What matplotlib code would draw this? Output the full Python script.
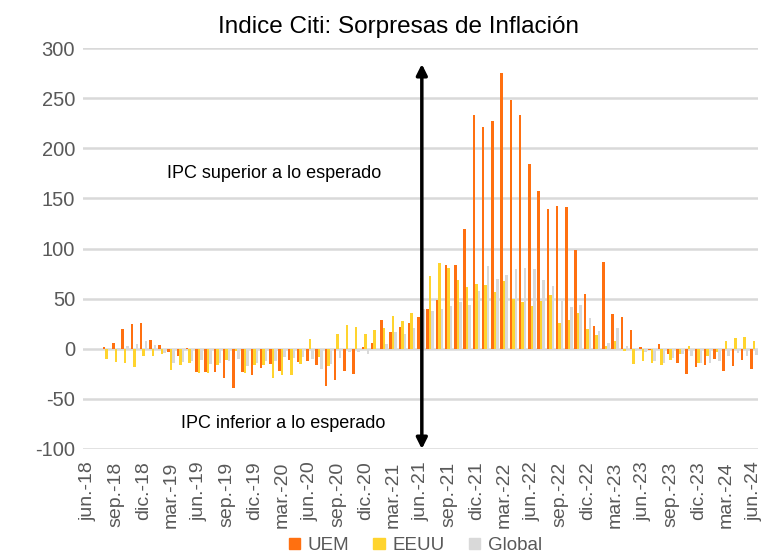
import numpy as np
import matplotlib
matplotlib.use("Agg")
import matplotlib.pyplot as plt
from matplotlib import font_manager as fm
from matplotlib.patches import Patch

names = {f.name for f in fm.fontManager.ttflist}
FONT = 'Liberation Sans Narrow' if 'Liberation Sans Narrow' in names else 'Liberation Sans'
plt.rcParams['font.family'] = [FONT, 'DejaVu Sans']

mes = ['ene.', 'feb.', 'mar.', 'abr.', 'may.', 'jun.', 'jul.', 'ago.', 'sep.', 'oct.', 'nov.', 'dic.']
months = []
for k in range(73):
    m = (5 + k) % 12
    y = 18 + (5 + k) // 12
    months.append(f"{mes[m]}-{y}")

nan = np.nan
uem = [nan, nan, 2, 6, 20, 25, 26, 9, 4, -3, -7, 1, -23, -23, -23, -29, -39, -23, -26, -19,
       -15, -22, -11, -13, -12, -16, -37, -31, -22, -25, 2, 6, 29, 17, 22, 26, 32, 40, 49, 84,
       84, 119, 233, 221, 227, 275, 248, 233, 184, 157, 139, 142, 141, 99, 55, 23, 87, 35, 32, 19,
       2, -1, 5, -5, -14, -25, -18, -16, -10, -22, -17, -11, -20]
eeuu = [nan, nan, -10, -13, -14, -18, -7, -7, -5, -21, -16, -14, -24, -24, -16, -11, -2, -24, -16, -16,
        -29, -26, -26, -15, 10, -8, -17, 15, 24, 22, 15, 19, 21, 33, 28, 36, 71, 73, 86, 81,
        69, 62, 65, 64, 57, 68, 50, 47, 43, 48, 54, 26, 29, 36, 20, 14, 3, 8, -2, -15,
        -12, -14, -16, -11, -5, 3, -14, -7, -3, 8, 11, 12, 8]
glob = [nan, nan, 0, 1, 3, 5, 8, 4, -4, -14, -13, -12, -11, -15, -14, -12, -10, -17, -14, -12,
        -12, -8, -9, -8, -10, -20, -15, -9, -3, -3, -5, -1, 5, 17, 15, 21, 40, 38, 40, 43,
        47, 44, 58, 83, 70, 74, 80, 81, 80, 69, 63, 48, 42, 44, 31, 18, 6, 21, 3, -2,
        -3, -12, -14, -9, -5, -7, -14, -14, -12, -7, -4, -7, -6]
series_names = ['UEM', 'EEUU', 'Global']
colors = ['#FF7010', '#FFD42E', '#D9D9D9']
yticks = [-100, -50, 0, 50, 100, 150, 200, 250, 300]

fig = plt.figure(figsize=(7.66, 5.59), dpi=100)
ax = fig.add_axes([83.4 / 766, 1 - 449 / 559, 675 / 766, 401 / 559])

x = np.arange(len(months))
w = 0.27
for off, vals, c, nm in zip([-w, 0, w], [uem, eeuu, glob], colors, series_names):
    ax.bar(x + off, vals, width=w, color=c, label=nm, zorder=2, linewidth=0)

ax.set_xlim(-0.5, len(months) - 0.5)
ax.set_ylim(-100, 300)
ax.set_yticks(yticks)
ax.set_yticklabels([str(v) for v in yticks], fontsize=14.5, color='#595959')
ax.set_xticks(x[::3])
ax.set_xticklabels(months[::3], rotation=90, fontsize=14, color='#595959')
ax.tick_params(length=0, pad=9)
ax.tick_params(axis='y', pad=6)
ax.grid(axis='y', color='#D9D9D9', lw=1.8, zorder=0)
ax.set_axisbelow(True)
for s in ax.spines.values():
    s.set_visible(False)

ax.annotate('', xy=(36.1, 284), xytext=(36.1, -100),
            arrowprops=dict(arrowstyle='<|-|>', color='black', lw=2.5,
                            mutation_scale=16, shrinkA=0, shrinkB=0), zorder=5)

ax.text(20.1, 175, 'IPC superior a lo esperado', ha='center', va='center', fontsize=13, color='black')
ax.text(21.1, -75, 'IPC inferior a lo esperado', ha='center', va='center', fontsize=13, color='black')

fig.text(0.52, 0.952, 'Indice Citi: Sorpresas de Inflación', ha='center', va='center',
         fontsize=17.5, color='black')

handles = [Patch(color=c, label=n) for c, n in zip(colors, series_names)]
fig.legend(handles=handles, loc='center', bbox_to_anchor=(0.542, 0.024), ncol=3, frameon=False,
           fontsize=13.5, handlelength=0.6, handleheight=0.6, handletextpad=0.4,
           columnspacing=1.3, labelcolor='#595959', borderpad=0.1)

fig.savefig('out.png', dpi=100)
